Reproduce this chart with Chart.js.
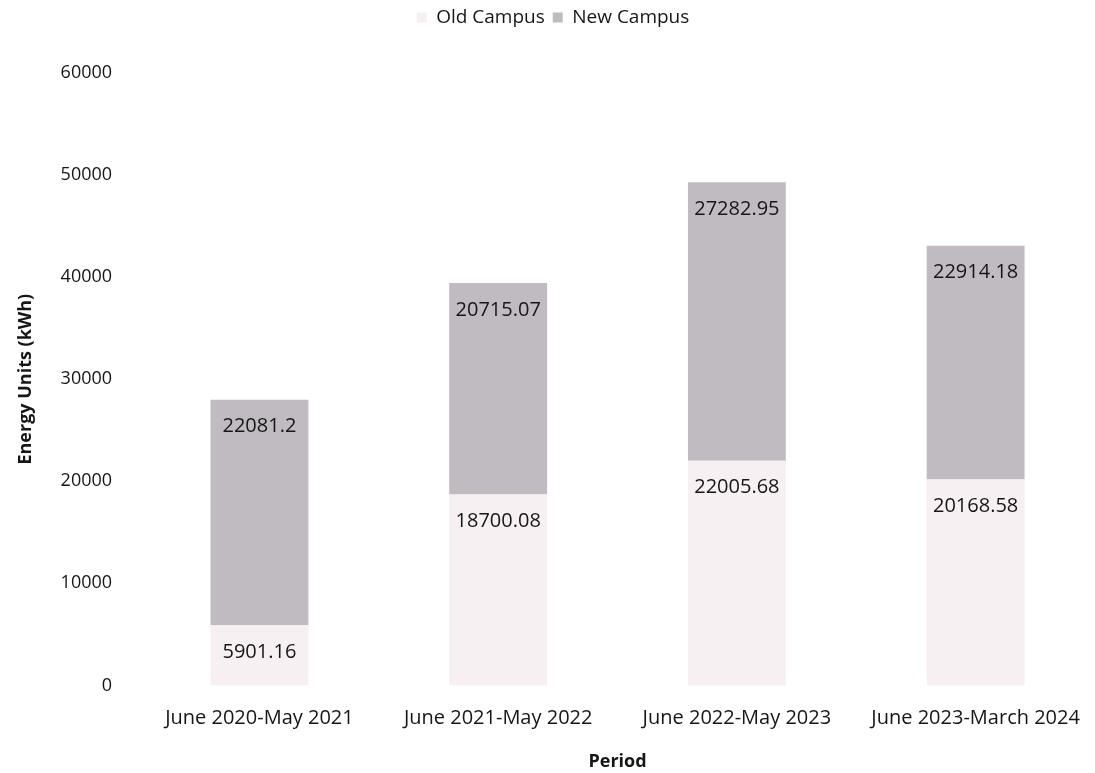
<!DOCTYPE html>
<html>
<head>
<meta charset="utf-8">
<script src="https://cdn.jsdelivr.net/npm/chart.js@4/dist/chart.umd.min.js"></script>
<style>
    html, body { margin: 0; padding: 0; background: #ffffff; }
    #wrap { width: 1095px; height: 773px; }
</style>
</head>
<body>
<div id="wrap"><canvas id="energyChart" width="1095" height="773"></canvas></div>
<script>
const periods = ["June 2020-May 2021", "June 2021-May 2022", "June 2022-May 2023", "June 2023-March 2024"];
const oldCampus = [5901.16, 18700.08, 22005.68, 20168.58];
const newCampus = [22081.2, 20715.07, 27282.95, 22914.18];
const yTicks = [0, 10000, 20000, 30000, 40000, 50000, 60000];

const FONT = "'Open Sans', sans-serif";
const TEXT = "#161616";

// value labels just inside the top of each segment
const insideEndLabels = {
    id: "insideEndLabels",
    afterDatasetsDraw(chart) {
        const ctx = chart.ctx;
        ctx.save();
        ctx.font = "20px " + FONT;
        ctx.fillStyle = TEXT;
        ctx.textAlign = "center";
        ctx.textBaseline = "middle";
        chart.data.datasets.forEach((ds, i) => {
            chart.getDatasetMeta(i).data.forEach((bar, j) => {
                ctx.fillText(String(ds.data[j]), bar.x, bar.y + 27);
            });
        });
        ctx.restore();
    },
};

// extra room under the legend
const legendGap = {
    id: "legendGap",
    beforeInit(chart) {
        const fit = chart.legend.fit;
        chart.legend.fit = function () {
            fit.bind(chart.legend)();
            this.height += 36;
        };
    },
};

new Chart(document.getElementById("energyChart"), {
    type: "bar",
    data: {
        labels: periods,
        datasets: [
            {
                label: "Old Campus",
                data: oldCampus,
                backgroundColor: "#f7f0f2",
                borderWidth: 0,
            },
            {
                label: "New Campus",
                data: newCampus,
                backgroundColor: "#c0bbc1",
                borderWidth: 0,
            },
        ],
    },
    options: {
        responsive: false,
        animation: false,
        categoryPercentage: 0.82,
        barPercentage: 0.5,
        layout: { padding: { top: 0, right: 0, left: 11, bottom: 0 } },
        plugins: {
            legend: {
                position: "top",
                labels: {
                    font: { family: FONT, size: 19 },
                    color: TEXT,
                    boxWidth: 10,
                    boxHeight: 10,
                    padding: 8,
                },
            },
            tooltip: { enabled: false },
        },
        scales: {
            x: {
                stacked: true,
                grid: { display: false },
                border: { display: false },
                ticks: {
                    font: { family: FONT, size: 20 },
                    color: TEXT,
                    maxRotation: 0,
                    padding: 13,
                },
                title: {
                    display: true,
                    text: "Period",
                    font: { family: FONT, size: 18, weight: "bold" },
                    color: TEXT,
                    padding: { top: 8, bottom: 0 },
                },
            },
            y: {
                stacked: true,
                min: 0,
                max: 60000,
                afterBuildTicks: (axis) => {
                    axis.ticks = yTicks.map((v) => ({ value: v }));
                },
                grid: { display: false },
                border: { display: false },
                ticks: {
                    font: { family: FONT, size: 18 },
                    color: TEXT,
                    padding: 20,
                    callback: (v) => String(v),
                },
                title: {
                    display: true,
                    text: "Energy Units (kWh)",
                    font: { family: FONT, size: 18, weight: "bold" },
                    color: TEXT,
                },
            },
        },
    },
    plugins: [insideEndLabels, legendGap],
});
</script>
</body>
</html>
